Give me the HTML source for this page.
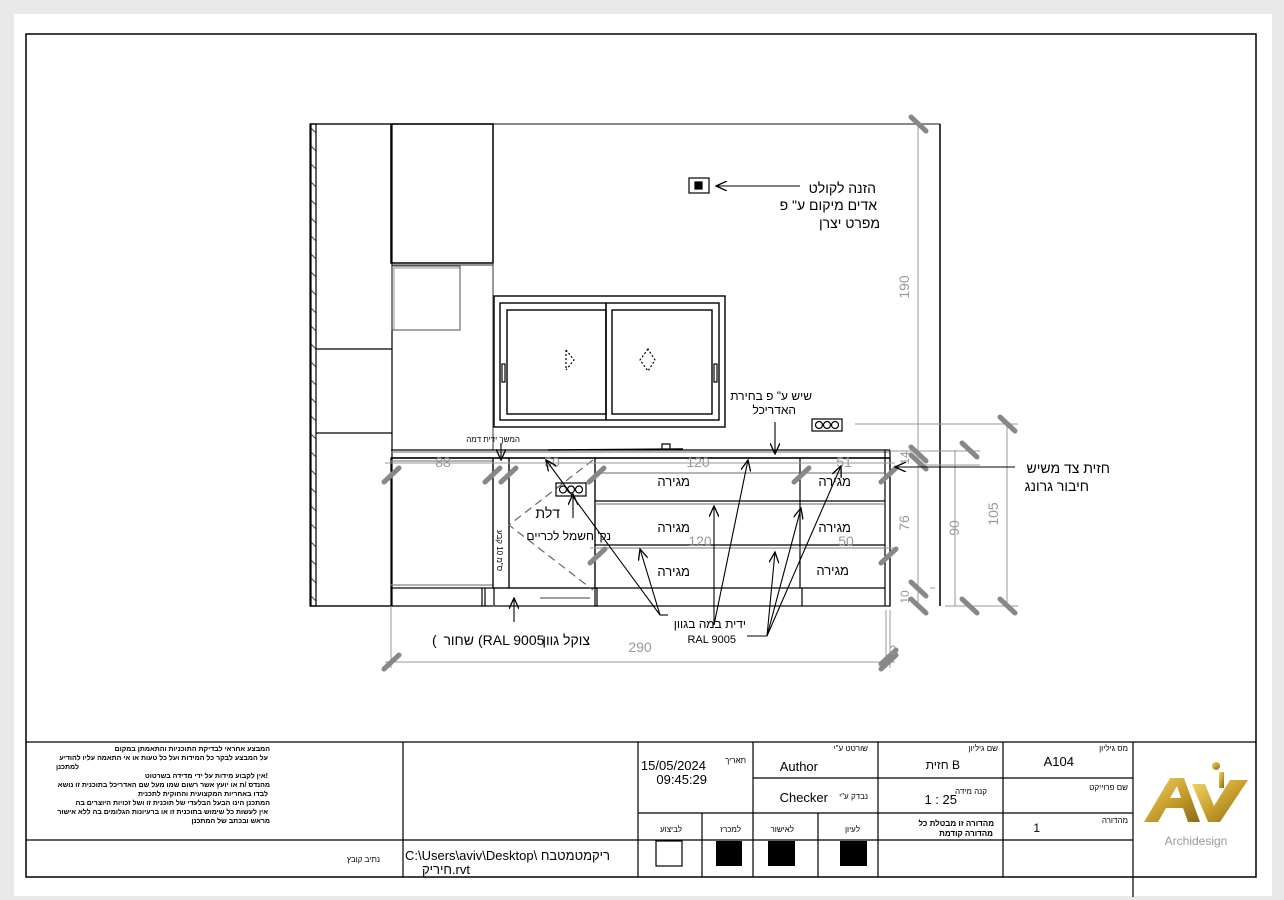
<!DOCTYPE html>
<html><head><meta charset="utf-8"><style>
html,body{margin:0;padding:0;background:#e9e9e9;}
svg{display:block;}
text{font-family:"Liberation Sans","Noto Sans CJK SC",sans-serif;}
</style></head><body>
<svg width="1284" height="900" viewBox="0 0 1284 900" xmlns="http://www.w3.org/2000/svg">
<defs>
<marker id="ar" markerWidth="12" markerHeight="10" refX="11" refY="5" orient="auto" markerUnits="userSpaceOnUse">
<path d="M0,0 L11,5 L0,10" fill="none" stroke="#000" stroke-width="1.3"/></marker>
<pattern id="hat" x="311" y="128" width="6" height="18" patternUnits="userSpaceOnUse"><path d="M0,0 L5,5" stroke="#444" stroke-width="1"/></pattern>
<linearGradient id="gold" x1="0" y1="0" x2="1" y2="1"><stop offset="0" stop-color="#f2d56a"/><stop offset="0.5" stop-color="#c9a02e"/><stop offset="1" stop-color="#8a6a14"/></linearGradient>
</defs>
<rect x="14" y="14" width="1258" height="882" fill="#fff"/>
<rect x="26" y="34" width="1230" height="843" fill="none" stroke="#000" stroke-width="1.5"/>

<g fill="none" stroke="#000" stroke-width="1.2">
<line x1="310" y1="124" x2="940" y2="124" stroke="#444"/>
<line x1="940" y1="124" x2="940" y2="606" stroke-width="1.5"/>
<rect x="310" y="124" width="82" height="482"/>
<rect x="311" y="124" width="5" height="482" fill="url(#hat)"/>
<line x1="316" y1="349" x2="392" y2="349"/>
<line x1="316" y1="433" x2="392" y2="433"/>
<rect x="391" y="124" width="102" height="139" stroke-width="1.5"/>
<line x1="392" y1="265" x2="493" y2="265" stroke="#555"/>
<line x1="493" y1="263" x2="493" y2="450" stroke="#555"/>
<rect x="392" y="266" width="68" height="64" stroke="#555"/>
<rect x="394" y="268" width="66" height="62" stroke="#777" stroke-width="0.8"/>
<rect x="494" y="296" width="231" height="131" stroke-width="1.4"/>
<rect x="500" y="303" width="219" height="117" stroke-width="1.4"/>
<rect x="507" y="310" width="99" height="104" stroke-width="1.4"/>
<rect x="612" y="310" width="100" height="104" stroke-width="1.4"/>
<line x1="606" y1="303" x2="606" y2="420" stroke-width="1.6"/>
<rect x="502" y="364" width="3" height="18"/>
<rect x="714" y="364" width="3" height="18"/>
<path d="M566,350 L574,360 L566,370 M566,350 L566,370" stroke-dasharray="2,2"/>
<path d="M648,349 L640,360 L648,371 L655,360 Z" stroke-dasharray="2,2"/>
<rect x="689" y="178" width="20" height="15"/>
<rect x="695" y="182" width="7" height="7" fill="#000"/>
<line x1="391" y1="450" x2="890" y2="450"/>
<line x1="391" y1="452" x2="890" y2="452" stroke="#888"/>
<line x1="391" y1="458" x2="890" y2="458" stroke-width="1.5"/>
<line x1="548" y1="450" x2="683" y2="449" stroke-width="1.4"/>
<path d="M662,450 L662,444 L670,444 L670,450"/>
<rect x="391" y="458" width="102" height="130"/>
<line x1="391" y1="461" x2="493" y2="461" stroke="#888"/>
<line x1="391" y1="585" x2="493" y2="585" stroke="#888"/>
<line x1="391" y1="588" x2="391" y2="606"/>
<line x1="310" y1="606" x2="493" y2="606"/>
<line x1="482" y1="588" x2="482" y2="606"/><line x1="485" y1="588" x2="485" y2="606"/>
<rect x="493" y="458" width="16" height="130"/>
<rect x="509" y="458" width="86" height="130"/>
<rect x="494" y="588" width="103" height="18"/>
<line x1="540" y1="598" x2="590" y2="598" stroke="#666"/>
<path d="M593,460 L509,525 L593,590" stroke="#666" stroke-dasharray="8,5"/>
<rect x="595" y="458" width="295" height="148"/>
<line x1="885" y1="450" x2="885" y2="606"/><line x1="890" y1="450" x2="890" y2="606"/>
<line x1="595" y1="473" x2="885" y2="473" stroke="#888"/>
<line x1="595" y1="501" x2="885" y2="501"/>
<line x1="595" y1="504" x2="885" y2="504" stroke="#888"/>
<line x1="595" y1="545" x2="885" y2="545"/>
<line x1="595" y1="548" x2="885" y2="548" stroke="#888"/>
<line x1="595" y1="588" x2="885" y2="588"/>
<line x1="800" y1="458" x2="800" y2="588"/>
<line x1="802" y1="588" x2="802" y2="606"/>
<rect x="556" y="483" width="30" height="13"/>
<circle cx="563" cy="489.5" r="3.5"/><circle cx="571" cy="489.5" r="3.5"/><circle cx="579" cy="489.5" r="3.5"/>
<rect x="812" y="419" width="30" height="12"/>
<circle cx="819" cy="425" r="3.5"/><circle cx="827" cy="425" r="3.5"/><circle cx="835" cy="425" r="3.5"/>
</g>

<g stroke="#999" stroke-width="1" fill="none">
<line x1="385" y1="463" x2="895" y2="463"/>
<line x1="385" y1="662" x2="895" y2="662"/>
<line x1="391" y1="606" x2="391" y2="668"/>
<line x1="886" y1="610" x2="886" y2="668"/>
<line x1="890" y1="610" x2="890" y2="668"/>
<line x1="590" y1="548" x2="895" y2="548"/>
<line x1="918" y1="124" x2="918" y2="606"/>
<line x1="890" y1="451" x2="980" y2="451"/>
<line x1="925" y1="465" x2="980" y2="465"/>
<line x1="955" y1="450" x2="955" y2="606"/>
<line x1="1007" y1="425" x2="1007" y2="606"/>
<line x1="855" y1="424" x2="1018" y2="424"/>
<line x1="945" y1="606" x2="1018" y2="606"/>
<line x1="930" y1="588" x2="935" y2="588"/>
</g>
<g stroke="#888" stroke-width="5" stroke-linecap="round">
<line x1="384" y1="482" x2="399" y2="468"/><line x1="485" y1="482" x2="500" y2="468"/><line x1="501" y1="482" x2="516" y2="468"/><line x1="589" y1="482" x2="604" y2="468"/>
<line x1="794" y1="482" x2="809" y2="468"/><line x1="881" y1="482" x2="896" y2="468"/>
<line x1="590" y1="563" x2="605" y2="549"/><line x1="881" y1="563" x2="896" y2="549"/>
<line x1="384" y1="669" x2="399" y2="655"/><line x1="881" y1="669" x2="896" y2="655"/><line x1="881" y1="664" x2="896" y2="650"/>
<line x1="911" y1="117" x2="926" y2="131"/>
<line x1="911" y1="447" x2="926" y2="461"/><line x1="911" y1="455" x2="926" y2="469"/>
<line x1="911" y1="582" x2="926" y2="596"/><line x1="911" y1="599" x2="926" y2="613"/>
<line x1="962" y1="443" x2="977" y2="457"/><line x1="962" y1="599" x2="977" y2="613"/>
<line x1="1000" y1="417" x2="1015" y2="431"/><line x1="1000" y1="599" x2="1015" y2="613"/>
</g>
<g fill="#999" font-size="14">
<text x="443" y="467" text-anchor="middle">88</text>
<text x="552" y="467" text-anchor="middle">50</text>
<text x="698" y="467" text-anchor="middle">120</text>
<text x="844" y="467" text-anchor="middle">51</text>
<text x="700" y="546" text-anchor="middle">120</text>
<text x="846" y="546" text-anchor="middle">50</text>
<text x="640" y="652" text-anchor="middle">290</text>
<text x="893" y="654" text-anchor="middle" font-size="12">2</text>
<text transform="translate(909,287) rotate(-90)" text-anchor="middle">190</text>
<text transform="translate(909,458) rotate(-90)" text-anchor="middle" font-size="12">14</text>
<text transform="translate(909,523) rotate(-90)" text-anchor="middle">76</text>
<text transform="translate(909,597) rotate(-90)" text-anchor="middle" font-size="12">10</text>
<text transform="translate(959,528) rotate(-90)" text-anchor="middle">90</text>
<text transform="translate(998,514) rotate(-90)" text-anchor="middle">105</text>
</g>

<g stroke="#000" stroke-width="1.1" fill="none" marker-end="url(#ar)">
<line x1="800" y1="186" x2="716" y2="186"/>
<line x1="775" y1="422" x2="775" y2="454"/>
<line x1="1015" y1="467" x2="895" y2="467"/>
<line x1="501" y1="443" x2="501" y2="460"/>
<line x1="573" y1="518" x2="573" y2="494"/>
<line x1="514" y1="622" x2="514" y2="598"/>
<line x1="660" y1="615" x2="546" y2="460"/>
<line x1="660" y1="615" x2="640" y2="549"/>
<line x1="714" y1="625" x2="714" y2="506"/>
<line x1="714" y1="625" x2="748" y2="460"/>
<line x1="767" y1="636" x2="775" y2="552"/>
<line x1="767" y1="636" x2="801" y2="508"/>
<line x1="767" y1="636" x2="841" y2="466"/>
</g>
<line x1="747" y1="636" x2="767" y2="636" stroke="#000" stroke-width="1.1"/>
<line x1="660" y1="615" x2="668" y2="615" stroke="#000" stroke-width="1.1"/>

<g fill="#000" font-size="14" text-anchor="end">
<text x="876" y="193">הזנה לקולט</text>
<text x="877" y="210">אדים מיקום ע" פ</text>
<text x="880" y="228">מפרט יצרן</text>
<text x="812" y="400" font-size="12">שיש ע" פ בחירת</text>
<text x="796" y="414" font-size="12">האדריכל</text>
<text x="1110" y="473">חזית צד משיש</text>
<text x="1089" y="491">חיבור גרונג</text>
<text x="520" y="442" font-size="8">המשך ידית דמה</text>
<text x="690" y="486" font-size="13">מגירה</text>
<text x="690" y="532" font-size="13">מגירה</text>
<text x="690" y="576" font-size="13">מגירה</text>
<text x="851" y="486" font-size="13">מגירה</text>
<text x="851" y="532" font-size="13">מגירה</text>
<text x="849" y="575" font-size="13">מגירה</text>
<text x="560" y="518" font-size="14">דלת</text>
<text x="611" y="540" font-size="12">נק' חשמל לכריים</text>
<text x="746" y="628" font-size="12">ידית במה בגוון</text>
<text x="736" y="643" font-size="11">RAL 9005</text>
</g>
<g fill="#000" font-size="14">
<text x="432" y="645">(</text>
<text x="474" y="645" text-anchor="end">שחור</text>
<text x="478" y="645">(RAL 9005</text>
<text x="590" y="645" text-anchor="end">צוקל גוון</text>
</g>
<text transform="translate(497,530) rotate(90)" font-size="8" fill="#000">ס"מ 10 קבע</text>

<g stroke="#000" stroke-width="1.2" fill="none">
<line x1="26" y1="742" x2="1256" y2="742"/>
<line x1="26" y1="840" x2="1133" y2="840"/>
<line x1="403" y1="742" x2="403" y2="877"/>
<line x1="638" y1="742" x2="638" y2="877"/>
<line x1="753" y1="742" x2="753" y2="877"/>
<line x1="878" y1="742" x2="878" y2="877"/>
<line x1="1003" y1="742" x2="1003" y2="877"/>
<line x1="1133" y1="742" x2="1133" y2="897"/>
<line x1="753" y1="778" x2="1133" y2="778"/>
<line x1="638" y1="813" x2="1133" y2="813"/>
<line x1="702" y1="813" x2="702" y2="877"/>
<line x1="818" y1="813" x2="818" y2="877"/>
<rect x="656" y="841" width="26" height="25"/>
</g>
<g fill="#000"><rect x="716" y="841" width="26" height="25"/><rect x="768" y="841" width="27" height="25"/><rect x="840" y="841" width="27" height="25"/></g>
<g fill="#000" font-size="7" text-anchor="end" font-weight="bold">
<text x="270" y="751">המבצע אחראי לבדיקת התוכניות והתאמתן במקום</text>
<text x="268" y="760">על המבצע לבקר כל המידות ועל כל טעות או אי התאמה עליו להודיע</text>
<text x="79" y="769">למתכנן</text>
<text x="268" y="778">אין לקבוע מידות על ידי מדידה בשרטוט!</text>
<text x="270" y="787">מהנדס /ת או יועץ אשר רשום שמו מעל שם האדריכל בתוכנית זו נושא</text>
<text x="268" y="796">לבדו באחריות המקצועית והחוקית לתכנית</text>
<text x="270" y="805">המתכנן הינו הבעל הבלעדי של תוכנית זו ושל זכויות היוצרים בה</text>
<text x="268" y="814">אין לעשות כל שימוש בתוכנית זו או ברעיונות הגלומים בה ללא אישור</text>
<text x="270" y="823">מראש ובכתב של המתכנן</text>
</g>
<g fill="#000" text-anchor="end">
<text x="380" y="862" font-size="8">נתיב קובץ</text>
<text x="610" y="860" font-size="13">C:\Users\aviv\Desktop\ ריקמטמטבח</text>
<text x="470" y="874" font-size="13">חיריק.rvt</text>
<text x="746" y="763" font-size="8">תאריך</text>
<text x="706" y="770" font-size="13">15/05/2024</text>
<text x="707" y="784" font-size="13">09:45:29</text>
<text x="868" y="751" font-size="8">שורטט ע"י</text>
<text x="818" y="771" font-size="13">Author</text>
<text x="868" y="799" font-size="8">נבדק ע"י</text>
<text x="828" y="802" font-size="13">Checker</text>
<text x="998" y="751" font-size="8">שם גיליון</text>
<text x="960" y="769" font-size="12">חזית B</text>
<text x="987" y="794" font-size="8">קנה מידה</text>
<text x="957" y="804" font-size="13">1 : 25</text>
<text x="1128" y="751" font-size="8">מס גיליון</text>
<text x="1074" y="766" font-size="13">A104</text>
<text x="1128" y="790" font-size="8">שם פרוייקט</text>
<text x="1128" y="823" font-size="8">מהדורה</text>
<text x="1040" y="832" font-size="12">1</text>
<text x="682" y="832" font-size="8">לביצוע</text>
<text x="741" y="832" font-size="8">למכרז</text>
<text x="794" y="832" font-size="8">לאישור</text>
<text x="860" y="832" font-size="8">לעיון</text>
<text x="994" y="826" font-size="8" font-weight="bold">מהדורה זו מבטלת כל</text>
<text x="993" y="836" font-size="8" font-weight="bold">מהדורה קודמת</text>
</g>
<g fill="url(#gold)">
<path d="M1144,822 L1170,778 L1184,778 L1200,822 L1188,822 L1183,808 L1166,808 L1158,822 Z M1170,798 L1181,798 L1177,786 Z"/>
<path d="M1192,784 L1205,784 L1214,806 L1230,780 L1248,780 L1220,822 L1208,822 Z"/>
<circle cx="1216" cy="766" r="4"/>
<path d="M1219,772 L1224,772 L1224,788 L1219,788 Z"/>
</g>
<text x="1196" y="845" text-anchor="middle" font-size="12" fill="#999">Archidesign</text>
</svg>
</body></html>
